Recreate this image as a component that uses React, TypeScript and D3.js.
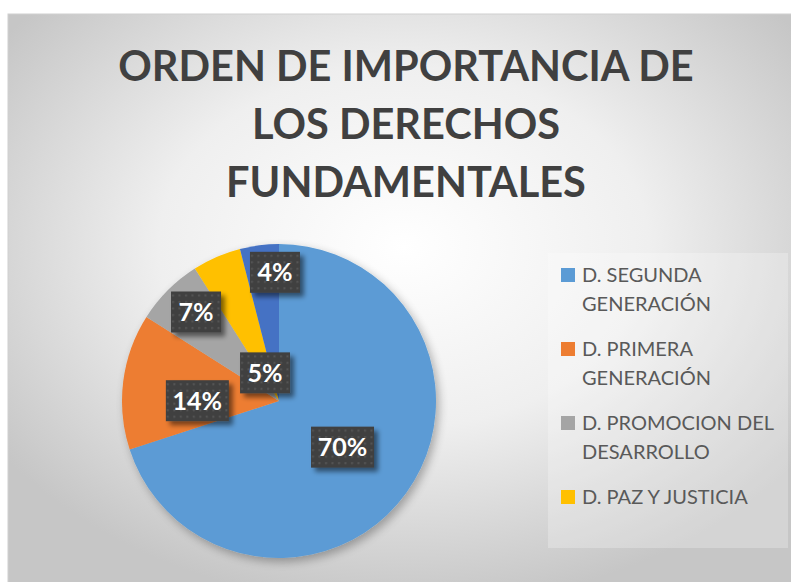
import * as d3 from "d3";
import React from "react";

// data
const categories = [
  "D. SEGUNDA GENERACIÓN",
  "D. PRIMERA GENERACIÓN",
  "D. PROMOCION DEL DESARROLLO",
  "D. PAZ Y JUSTICIA",
  "D. OTROS",
];
const values = [70, 14, 7, 5, 4];
const colors = ["#5B9BD5", "#ED7D31", "#A5A5A5", "#FFC000", "#4472C4"];
// legend text as it wraps in the original (last item is clipped out)
const legendLines = [
  ["D. SEGUNDA", "GENERACIÓN"],
  ["D. PRIMERA", "GENERACIÓN"],
  ["D. PROMOCION DEL", "DESARROLLO"],
  ["D. PAZ Y JUSTICIA"],
];
const titleLines = ["ORDEN DE IMPORTANCIA DE", "LOS DERECHOS", "FUNDAMENTALES"];

// label placement ("best fit" in the original): radius factor, angle shift in degrees
const labelPlace = [
  [0.5, 0],
  [0.52, -7],
  [0.775, 2],
  [0.2, -3],
  [0.82, 5.4],
];

const W = 791;
const H = 582;
const cx = 279;
const cy = 401;
const radius = 157;
const FONT = "Lato, 'Open Sans', sans-serif";

const App = () => {
  const pie = d3
    .pie<number>()
    .sort(null)
    .value((d) => d);
  const arcs = pie(values);
  const arc = d3.arc<d3.PieArcDatum<number>>().innerRadius(0).outerRadius(radius);
  const total = d3.sum(values);

  return (
    <svg
      width={W}
      height={H}
      style={{ position: "absolute", left: 0, top: 0 }}
      xmlns="http://www.w3.org/2000/svg"
    >
      <defs>
        <radialGradient id="bg" cx="0.5" cy="0.4" r="0.62">
          <stop offset="0" stopColor="#ffffff" />
          <stop offset="0.5" stopColor="#efefef" />
          <stop offset="1" stopColor="#c6c6c6" />
        </radialGradient>
        <pattern id="dots" width="6.5" height="6.5" patternUnits="userSpaceOnUse">
          <rect width="6.5" height="6.5" fill="#404040" />
          <rect x="2" y="2" width="2" height="2" fill="#555555" />
        </pattern>
        <filter id="pieShadow" x="-20%" y="-20%" width="140%" height="140%">
          <feGaussianBlur in="SourceAlpha" stdDeviation="5" />
          <feOffset dx="3" dy="4" result="b" />
          <feComponentTransfer>
            <feFuncA type="linear" slope="0.3" />
          </feComponentTransfer>
          <feMerge>
            <feMergeNode />
            <feMergeNode in="SourceGraphic" />
          </feMerge>
        </filter>
        <filter id="boxShadow" x="-30%" y="-30%" width="160%" height="160%">
          <feGaussianBlur in="SourceAlpha" stdDeviation="2.5" />
          <feOffset dx="4" dy="4" />
          <feComponentTransfer>
            <feFuncA type="linear" slope="0.5" />
          </feComponentTransfer>
          <feMerge>
            <feMergeNode />
            <feMergeNode in="SourceGraphic" />
          </feMerge>
        </filter>
      </defs>

      <rect width={W} height={H} fill="#ffffff" />
      <rect x={8} y={14} width={W} height={H} fill="url(#bg)" stroke="#d0d0d0" />

      {/* title */}
      {titleLines.map((t, i) => (
        <text
          key={t}
          x={406}
          y={81 + i * 58}
          textAnchor="middle"
          fontFamily={FONT}
          fontWeight="bold"
          fontSize={41.5}
          fill="#404040"
        >
          {t}
        </text>
      ))}

      {/* pie */}
      <g transform={`translate(${cx},${cy})`}>
        <g filter="url(#pieShadow)">
          {arcs.map((a, i) => (
            <path key={categories[i]} d={arc(a) || ""} fill={colors[i]} />
          ))}
        </g>
        {arcs.map((a, i) => {
          const [rf, shift] = labelPlace[i];
          const mid = (a.startAngle + a.endAngle) / 2 + (shift * Math.PI) / 180;
          const lr = radius * rf;
          const x = Math.sin(mid) * lr;
          const y = -Math.cos(mid) * lr;
          const label = `${Math.round((values[i] / total) * 100)}%`;
          const bw = label.length > 2 ? 63 : 50;
          const bh = 41;
          return (
            <g key={label + i} transform={`translate(${x},${y})`}>
              <rect
                x={-bw / 2}
                y={-bh / 2}
                width={bw}
                height={bh}
                fill="url(#dots)"
                filter="url(#boxShadow)"
              />
              <text
                y={9}
                textAnchor="middle"
                fontFamily={FONT}
                fontWeight="bold"
                fontSize={25}
                fill="#ffffff"
              >
                {label}
              </text>
            </g>
          );
        })}
      </g>

      {/* legend */}
      <rect x={548} y={253} width={240} height={295} fill="#ffffff" fillOpacity={0.25} />
      {legendLines.map((lines, i) => (
        <g key={categories[i]} transform={`translate(561,${268 + i * 74})`}>
          <rect width={14} height={14} fill={colors[i]} />
          {lines.map((l, j) => (
            <text
              key={l}
              x={21}
              y={14 + j * 28.5}
              fontFamily={FONT}
              fontSize={20}
              fill="#595959"
            >
              {l}
            </text>
          ))}
        </g>
      ))}
    </svg>
  );
};

export default App;
